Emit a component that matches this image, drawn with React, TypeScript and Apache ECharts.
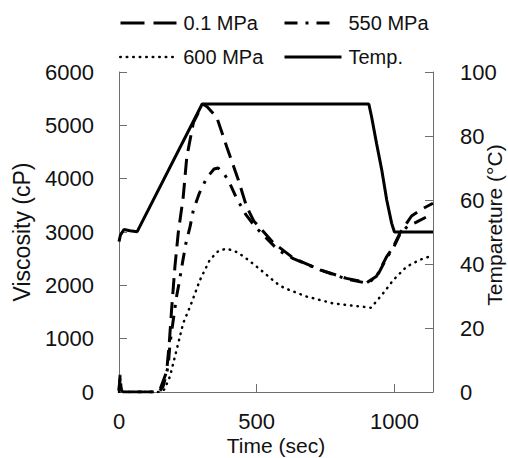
import React, { useEffect, useRef } from "react";
import * as echarts from "echarts";

// ---- data ----
const t01 = [0, 4, 8, 15, 140, 150, 160, 173, 183, 191, 203, 215, 233, 246, 270, 294, 304, 320, 355, 391, 433, 463, 490, 512, 560, 633, 730, 826, 900, 935, 972, 996, 1020, 1040, 1062, 1100, 1140];
const v01 = [30, 320, 40, 0, 0, 60, 200, 380, 950, 1550, 2350, 2980, 3650, 4400, 5050, 5300, 5400, 5350, 5150, 4600, 3980, 3480, 3200, 3080, 2800, 2510, 2290, 2130, 2050, 2170, 2540, 2720, 2980, 3130, 3300, 3430, 3540];

const t550 = [0, 4, 8, 15, 145, 160, 170, 179, 185, 197, 209, 219, 231, 243, 258, 270, 292, 318, 345, 360, 380, 397, 427, 460, 494, 536, 578, 633, 730, 826, 900, 935, 972, 996, 1020, 1050, 1078, 1123, 1140];
const v550 = [20, 250, 30, 0, 0, 100, 300, 500, 900, 1350, 1790, 2070, 2440, 2790, 3100, 3410, 3730, 4010, 4180, 4200, 4100, 3970, 3630, 3330, 3100, 2880, 2660, 2500, 2290, 2120, 2040, 2150, 2520, 2700, 2960, 3120, 3180, 3300, 3320];

const t600 = [0, 150, 165, 185, 197, 215, 233, 258, 294, 330, 360, 391, 430, 463, 500, 535, 572, 600, 681, 778, 900, 915, 959, 996, 1044, 1093, 1140];
const v600 = [0, 0, 50, 290, 540, 910, 1290, 1600, 2100, 2480, 2640, 2690, 2620, 2500, 2350, 2200, 2040, 1950, 1790, 1660, 1590, 1580, 1850, 2100, 2350, 2480, 2560];

const tTemp = [0, 5, 18, 40, 66, 302, 907, 917, 935, 954, 972, 990, 1000, 1140];
const vTemp = [47, 49, 50.8, 50.4, 50.1, 90, 90, 86, 77.7, 69.4, 60, 52.7, 50, 50];

const seriesNames = ["0.1 MPa", "550 MPa", "600 MPa", "Temp."];
const xTicks = { min: 0, max: 1140, interval: 500 };
const yLeft = { min: 0, max: 6000, interval: 1000 };
const yRight = { min: 0, max: 100, interval: 20 };

const pairs = (t: number[], v: number[]) => t.map((x, i) => [x, v[i]]);

const FONT = "'Liberation Sans', Arial, sans-serif";
const TXT = "#111";
const AXIS = "#6e6e6e";
const LABEL_SIZE = 22;
const plain = (v: number) => String(v);

export default function App() {
  const ref = useRef<HTMLDivElement>(null);
  useEffect(() => {
    if (!ref.current) return;
    const chart = echarts.init(ref.current, undefined, { renderer: "svg" });
    const legendBase = {
      padding: 0,
      itemHeight: 14,
      selectedMode: false,
      itemStyle: { opacity: 0, borderWidth: 0 },
      textStyle: { fontSize: 20, fontFamily: FONT, color: TXT },
    };
    const labelStyle = { fontSize: LABEL_SIZE, lineHeight: LABEL_SIZE, fontFamily: FONT, color: TXT };
    chart.setOption({
      animation: false,
      backgroundColor: "#fff",
      grid: { left: 119, right: 75, top: 72, bottom: 66, containLabel: false, outerBoundsMode: "none" },
      legend: [
        { ...legendBase, data: [seriesNames[0]], left: 119, top: 13, itemWidth: 56,
          lineStyle: { type: [24, 9], width: 3, color: "#000" },
          textStyle: { ...legendBase.textStyle, padding: [0, 0, 0, 2] } },
        { ...legendBase, data: [seriesNames[1]], left: 283, top: 13, itemWidth: 47,
          lineStyle: { type: [13, 8, 3, 8], width: 3, color: "#000" },
          textStyle: { ...legendBase.textStyle, padding: [0, 0, 0, 12] } },
        { ...legendBase, data: [seriesNames[2]], left: 119, top: 47, itemWidth: 53,
          lineStyle: { type: [0.5, 6], width: 2.5, cap: "round", color: "#000" },
          textStyle: { ...legendBase.textStyle, padding: [0, 0, 0, 5] } },
        { ...legendBase, data: [seriesNames[3]], left: 283, top: 47, itemWidth: 57,
          lineStyle: { width: 3, type: "solid", color: "#000" },
          textStyle: { ...legendBase.textStyle, padding: [0, 0, 0, 2] } },
      ],
      xAxis: {
        type: "value",
        ...xTicks,
        name: "Time (sec)",
        nameLocation: "middle",
        nameGap: 43,
        nameMoveOverlap: false,
        nameTextStyle: { fontSize: 21, lineHeight: 21, fontFamily: FONT, color: TXT },
        axisLine: { show: true, lineStyle: { color: AXIS, width: 1 } },
        axisTick: { show: true, inside: true, length: 8, lineStyle: { color: AXIS } },
        axisLabel: { ...labelStyle, margin: 18, formatter: plain },
        splitLine: { show: false },
      },
      yAxis: [
        {
          type: "value",
          ...yLeft,
          position: "left",
          name: "Viscosity (cP)",
          nameLocation: "middle",
          nameGap: 86,
          nameMoveOverlap: false,
          nameTextStyle: { fontSize: 23, lineHeight: 23, fontFamily: FONT, color: TXT },
          axisLine: { show: true, lineStyle: { color: AXIS, width: 1 } },
          axisTick: { show: true, inside: true, length: 8, lineStyle: { color: AXIS } },
          axisLabel: { ...labelStyle, margin: 25, formatter: plain },
          splitLine: { show: false },
        },
        {
          type: "value",
          ...yRight,
          position: "right",
          name: "Tempareture (°C)",
          nameLocation: "middle",
          nameGap: 51,
          nameRotate: 90,
          nameMoveOverlap: false,
          nameTextStyle: { fontSize: 21, lineHeight: 21, fontFamily: FONT, color: TXT, padding: [0, 0, 0, 14] },
          axisLine: { show: true, lineStyle: { color: AXIS, width: 1 } },
          axisTick: { show: true, inside: true, length: 8, lineStyle: { color: AXIS } },
          axisLabel: { ...labelStyle, margin: 27, formatter: plain },
          splitLine: { show: false },
        },
      ],
      series: [
        {
          name: seriesNames[0], type: "line", symbol: "none", data: pairs(t01, v01),
          lineStyle: { color: "#000", width: 3, type: [16, 8] }, itemStyle: { color: "#000" }, z: 3,
        },
        {
          name: seriesNames[1], type: "line", symbol: "none", data: pairs(t550, v550),
          lineStyle: { color: "#000", width: 3, type: [13, 8, 3, 8] }, itemStyle: { color: "#000" }, z: 3,
        },
        {
          name: seriesNames[2], type: "line", symbol: "none", data: pairs(t600, v600),
          lineStyle: { color: "#000", width: 2.5, type: [0.5, 6], cap: "round" }, itemStyle: { color: "#000" }, z: 3,
        },
        {
          name: seriesNames[3], type: "line", symbol: "none", yAxisIndex: 1, data: pairs(tTemp, vTemp),
          lineStyle: { color: "#000", width: 3 }, itemStyle: { color: "#000" }, z: 4,
        },
      ],
    });
    return () => chart.dispose();
  }, []);
  return (
    <div
      ref={ref}
      style={{ position: "fixed", left: 0, top: 0, width: 508, height: 458, background: "#fff" }}
    />
  );
}
